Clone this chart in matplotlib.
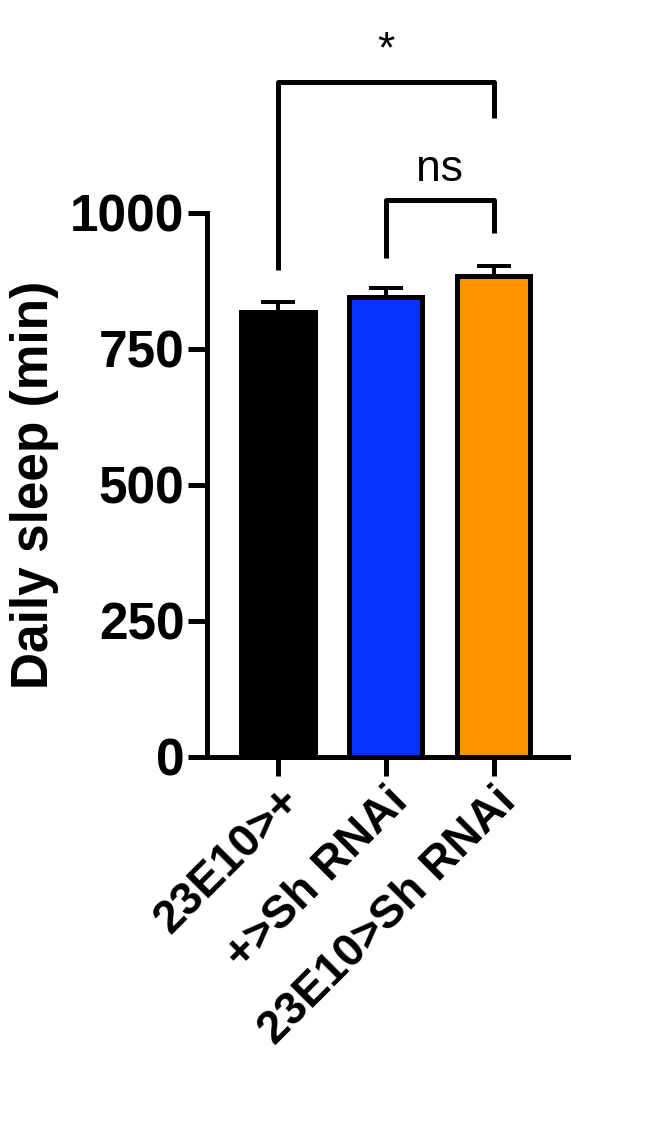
import matplotlib
matplotlib.use("Agg")
import matplotlib.pyplot as plt

groups = ["23E10>+", "+>Sh RNAi", "23E10>Sh RNAi"]
means = [817, 845, 885]
sems = [20, 17, 18]
colors = ["#000000", "#0433FF", "#FF9300"]
yticks = [0, 250, 500, 750, 1000]

plt.rcParams['font.family'] = ['Liberation Sans', 'DejaVu Sans']
fig = plt.figure(figsize=(6.5, 11.45), dpi=100)
ax = fig.add_axes([0.318, 0.339, 0.556, 0.475])
x = list(range(len(groups)))
lw = 3.6
ax.bar(x, means, width=0.68, color=colors, edgecolor="black", linewidth=lw, zorder=2)
ax.errorbar(x, means, yerr=[[0]*3, sems], fmt="none", ecolor="black",
            elinewidth=lw*0.8, capsize=12, capthick=lw*0.8, zorder=1)
ax.set_xlim(-0.66, 2.69)
ax.set_ylim(0, 1000)
ax.set_yticks(yticks)
ax.set_xticks(x)
ax.set_xticklabels(groups, rotation=45, ha="right", rotation_mode="anchor",
                   fontsize=33, fontweight="bold")
for t in ax.get_yticklabels():
    t.set_fontsize(37); t.set_fontweight("bold")
ax.set_ylabel("Daily sleep (min)", fontsize=37, fontweight="bold", labelpad=8)
for s in ["top", "right"]:
    ax.spines[s].set_visible(False)
for s in ["left", "bottom"]:
    ax.spines[s].set_linewidth(lw)
ax.tick_params(width=lw, length=14, pad=2)

def bracket(x1, x2, y1, y2, top, label, fs, off):
    ax.plot([x1, x1, x2, x2], [y1, top, top, y2], color="black", lw=lw,
            clip_on=False, solid_capstyle="butt")
    ax.text((x1+x2)/2, top+off, label, ha="center", va="bottom",
            fontsize=fs, clip_on=False)

bracket(0, 2, 895, 1175, 1241, "*", 32, 20)
bracket(1, 2, 917, 963, 1024, "ns", 32, 18)
fig.savefig("out.png", dpi=100)
